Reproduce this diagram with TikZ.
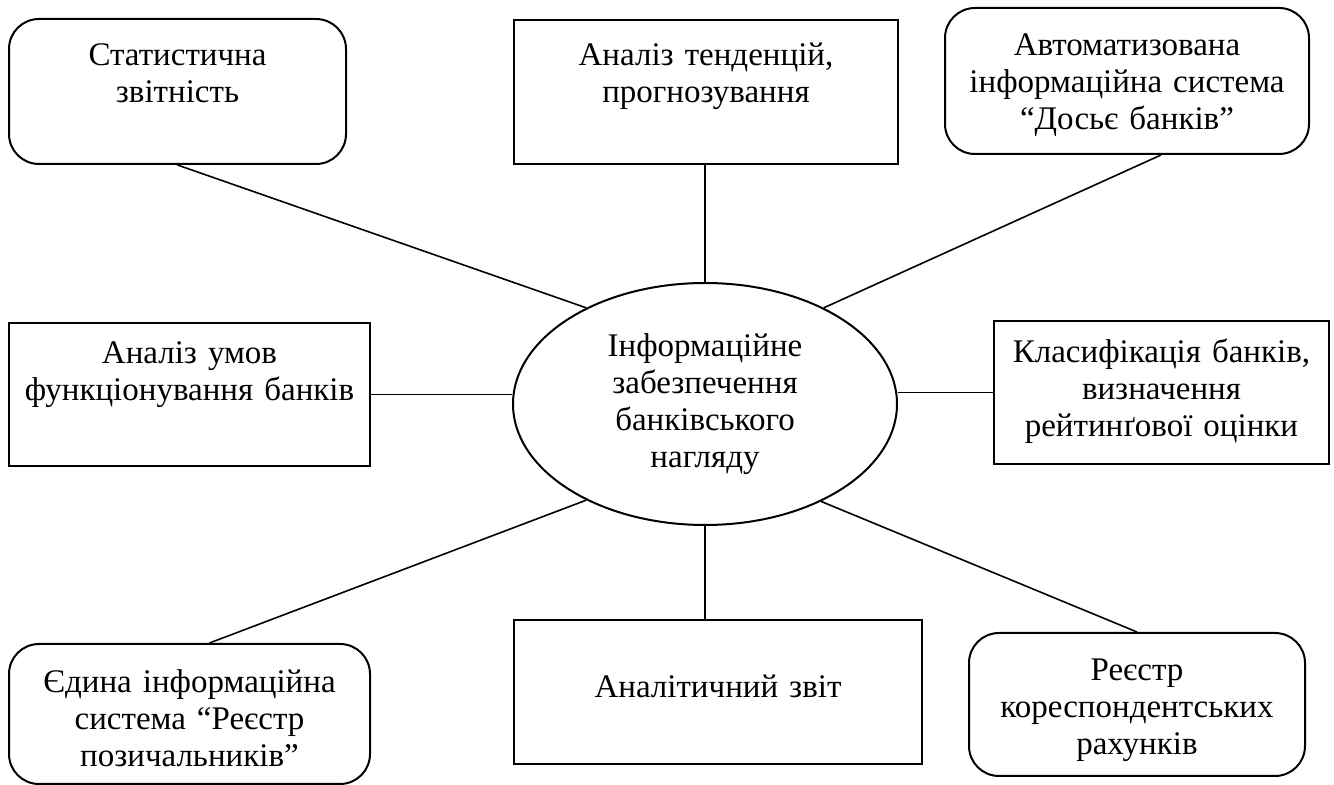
\documentclass[tikz,border=0pt]{standalone}
\usepackage{fontspec}
\setmainfont{Liberation Serif}
\usetikzlibrary{shapes.geometric}
\tikzset{
  sbox/.style={
    rectangle,
    draw=black, line width=1pt,
    inner sep=0pt,
    align=center,
    anchor=north west,
    font=\fontsize{16.5pt}{18.5pt}\selectfont,
  },
  rbox/.style={sbox, rounded corners=15pt},
  hub/.style={
    ellipse,
    draw=black, line width=1pt,
    inner sep=0pt,
    minimum width=192pt, minimum height=121pt,
    align=center,
    font=\fontsize{16.5pt}{18.5pt}\selectfont,
  },
  link/.style={draw=black, line width=0.8pt},
}

\begin{document}
\begin{tikzpicture}[x=0.5pt, y=-0.5pt]
  \useasboundingbox (0,0) rectangle (1334,785);

  \node[hub] (hub) at (705,404)
  {
    Інформаційне\\забезпечення\\банківського\\нагляду
  };

  \node[rbox, text width=168.5pt, text height=23.5pt, text depth=49pt] (stat) at (8,18)
  {
    Статистична\\звітність
  };
  \node[sbox, text width=192pt, text height=23pt, text depth=49pt] (trend) at (513,19)
  {
    Аналіз тенденцій,\\прогнозування
  };
  \node[rbox, text width=182pt, text height=24pt, text depth=49pt] (dossier) at (944,7)
  {
    Автоматизована\\інформаційна система\\“Досьє банків”
  };
  \node[sbox, text width=180.5pt, text height=20.5pt, text depth=51pt] (cond) at (8,322)
  {
    Аналіз умов\\функціонування банків
  };
  \node[sbox, text width=167.5pt, text height=21pt, text depth=50.5pt] (rating) at (993,320)
  {
    Класифікація банків,\\визначення\\рейтинґової оцінки
  };
  \node[rbox, text width=180.5pt, text height=24.5pt, text depth=45.5pt] (borrow) at (8,643)
  {
    Єдина інформаційна\\система “Реєстр\\позичальників”
  };
  \node[sbox, text width=204pt, text height=39pt, text depth=33pt] (report) at (513,619)
  {
    Аналітичний звіт
  };
  \node[rbox, text width=168pt, text height=24pt, text depth=47.5pt] (corr) at (968,632)
  {
    Реєстр\\кореспондентських\\рахунків
  };

  % spokes
  \path[link] (stat.south) -- (hub.141);
  \path[link] (trend.south -| hub.north) -- (hub.north);
  \path[link] ([xshift=17pt]dossier.south) -- (hub.39.5);
  \path[link] (cond.east) -- (cond.east -| hub.west);
  \path[link] (rating.west) -- (rating.west -| hub.east);
  \path[link] ([xshift=10pt]borrow.north) -- (hub.219);
  \path[link] (hub.south) -- (hub.south |- report.north);
  \path[link] (corr.north) -- (hub.320);
\end{tikzpicture}
\end{document}
